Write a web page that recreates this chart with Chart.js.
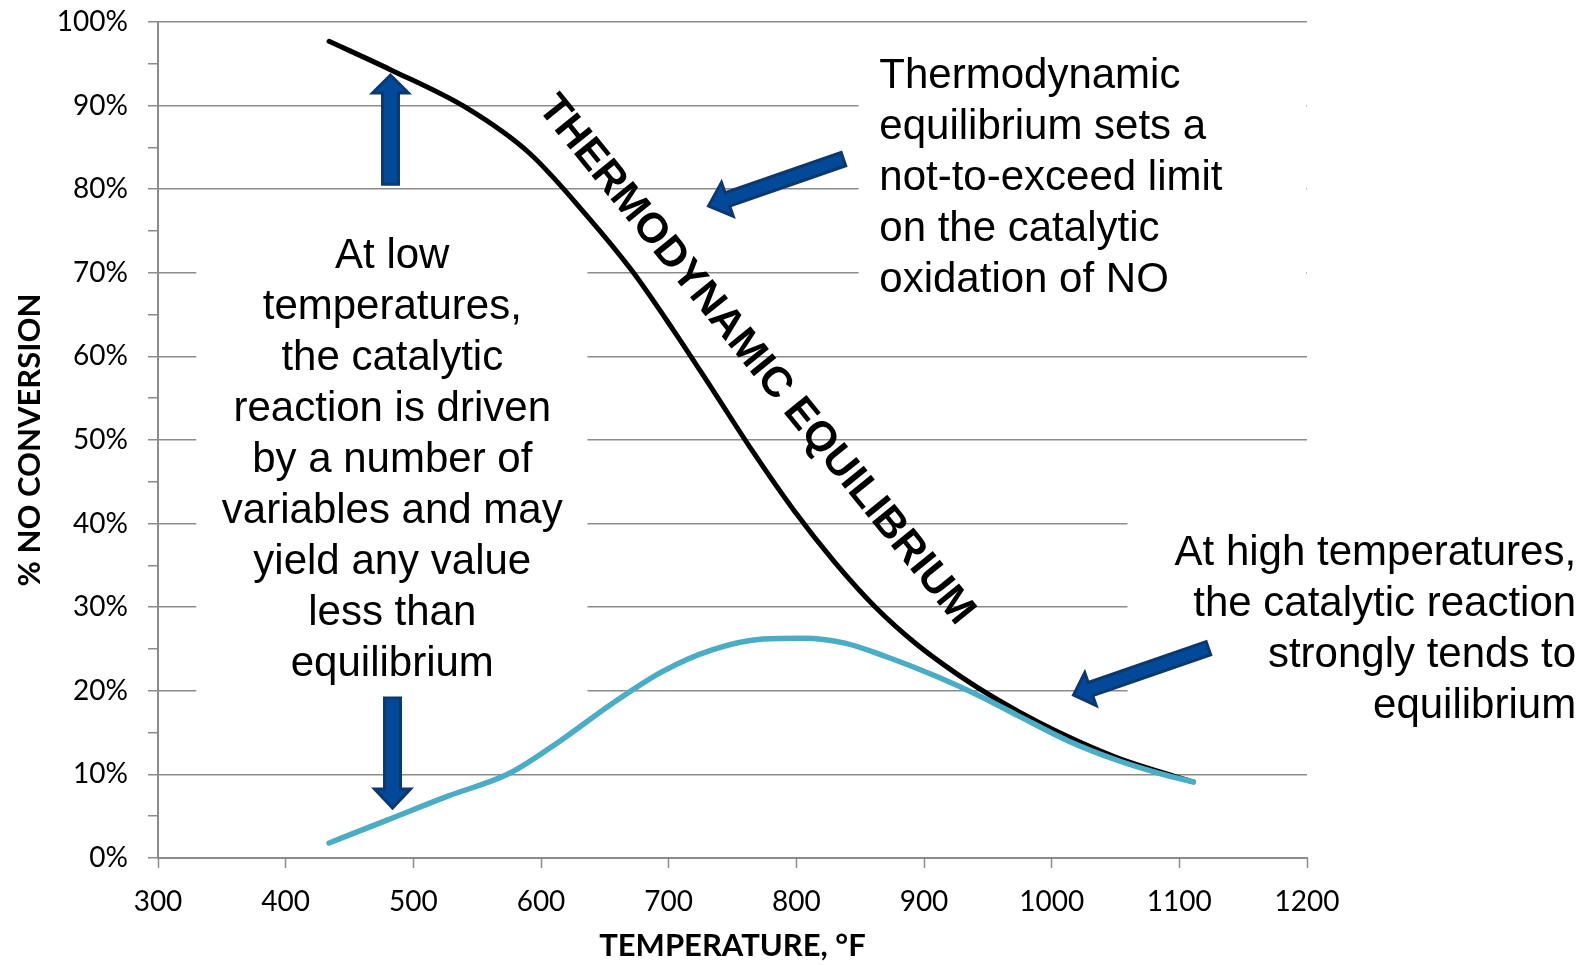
<!DOCTYPE html>
<html>
<head>
<meta charset="utf-8">
<title>% NO conversion vs temperature</title>
<script src="https://cdn.jsdelivr.net/npm/chart.js@4.4.0/dist/chart.umd.min.js"></script>
<style>
  html, body { margin: 0; padding: 0; background: #fff; }
  #wrap { width: 1596px; height: 965px; }
</style>
</head>
<body>
<div id="wrap"><canvas id="noChart" width="1596" height="965"></canvas></div>
<script>
// Thermodynamic equilibrium curve (temperature °F, % NO conversion)
const eqTemps = [434, 482, 543, 591, 635, 671, 703, 734.5, 766, 798, 830, 862, 894, 926, 958, 990, 1021.5, 1053, 1085, 1111];
const eqConversion = [97.7, 94.3, 89.6, 84.3, 77.0, 70.3, 63.3, 56.0, 48.6, 41.6, 35.4, 30.0, 25.6, 22.0, 18.9, 16.2, 13.9, 11.9, 10.3, 9.1];

// Catalytic reaction curve
const catTemps = [434, 479, 527, 575, 615, 655, 695, 734, 774, 806, 838, 870, 910, 942, 974, 1013, 1053, 1085, 1111];
const catConversion = [1.8, 4.5, 7.4, 10.1, 14.0, 18.4, 22.3, 24.9, 26.2, 26.3, 25.7, 24.1, 21.7, 19.5, 17.0, 14.0, 11.6, 10.1, 9.1];

// axis ticks
const xTickValues = [300, 400, 500, 600, 700, 800, 900, 1000, 1100, 1200];
const yMajorTicks = [0, 10, 20, 30, 40, 50, 60, 70, 80, 90, 100];
const yMinorTicks = [5, 15, 25, 35, 45, 55, 65, 75, 85, 95];

// text call-outs, anchored in data units (t = °F, p = %)
const notes = [
  { lines: ['At low', 'temperatures,', 'the catalytic', 'reaction is driven', 'by a number of',
            'variables and may', 'yield any value', 'less than', 'equilibrium'], t: 483.5, p: 72.4, align: 'center' },
  { lines: ['Thermodynamic', 'equilibrium sets a', 'not-to-exceed limit', 'on the catalytic',
            'oxidation of NO'], t: 865, p: 93.95, align: 'left' },
  { lines: ['At high temperatures,', 'the catalytic reaction', 'strongly tends to',
            'equilibrium'], t: 1410.8, p: 36.9, align: 'right' }
];
const curveLabel = { text: 'THERMODYNAMIC EQUILIBRIUM', t: 770.4, p: 59.8, angle: 51 };

// white boxes behind the call-outs (they hide the gridlines)
const noteBoxes = [
  { t0: 330, t1: 636.4, p0: 19.6, p1: 77 },
  { t0: 848.7, t1: 1199.5, p0: 62, p1: 96 },
  { t0: 1059.4, t1: 1260, p0: 16, p1: 44 }
];

// block arrows: tail -> tip
const arrows = [
  { from: [482.1, 80.6], to: [482.1, 93.66], shaft: 16, head: 36, headLen: 18 },
  { from: [483.7, 19.14], to: [483.7, 5.98], shaft: 16, head: 36, headLen: 19 },
  { from: [836.9, 83.6], to: [731.2, 78.0], shaft: 14, head: 36, headLen: 20 },
  { from: [1122.8, 25.1], to: [1017.1, 19.5], shaft: 14, head: 35, headLen: 18 }
];

const NOTE_FONT = '42px "Liberation Sans", Arial, sans-serif';
const LINE_HEIGHT = 51;

function drawArrow(ctx, x0, y0, x1, y1, a) {
  const ang = Math.atan2(y1 - y0, x1 - x0);
  const len = Math.hypot(x1 - x0, y1 - y0);
  ctx.save();
  ctx.translate(x0, y0);
  ctx.rotate(ang);
  ctx.beginPath();
  ctx.moveTo(0, -a.shaft / 2);
  ctx.lineTo(len - a.headLen, -a.shaft / 2);
  ctx.lineTo(len - a.headLen, -a.head / 2);
  ctx.lineTo(len, 0);
  ctx.lineTo(len - a.headLen, a.head / 2);
  ctx.lineTo(len - a.headLen, a.shaft / 2);
  ctx.lineTo(0, a.shaft / 2);
  ctx.closePath();
  ctx.fillStyle = '#03499a';
  ctx.fill();
  ctx.lineWidth = 3;
  ctx.lineJoin = 'miter';
  ctx.strokeStyle = '#0d386f';
  ctx.stroke();
  ctx.restore();
}

const callouts = {
  id: 'callouts',
  beforeDatasetsDraw(chart) {
    const { ctx, scales: { x, y } } = chart;
    ctx.save();
    ctx.fillStyle = '#fff';
    noteBoxes.forEach(b => {
      const x0 = x.getPixelForValue(b.t0), x1 = x.getPixelForValue(b.t1);
      const y0 = y.getPixelForValue(b.p1), y1 = y.getPixelForValue(b.p0);
      ctx.fillRect(x0, y0, x1 - x0, y1 - y0);
    });
    ctx.restore();
  },
  afterDatasetsDraw(chart) {
    const { ctx, scales: { x, y } } = chart;

    arrows.forEach(a => {
      drawArrow(ctx,
        x.getPixelForValue(a.from[0]), y.getPixelForValue(a.from[1]),
        x.getPixelForValue(a.to[0]), y.getPixelForValue(a.to[1]), a);
    });

    ctx.save();
    ctx.fillStyle = '#000';
    ctx.font = NOTE_FONT;
    ctx.textBaseline = 'alphabetic';
    notes.forEach(n => {
      ctx.textAlign = n.align;
      const px = x.getPixelForValue(n.t);
      const py = y.getPixelForValue(n.p);
      n.lines.forEach((line, i) => {
        // 15px ~ half the cap height, so py is the middle of the first line
        ctx.fillText(line, px, py + i * LINE_HEIGHT + 15);
      });
    });

    // label running along the equilibrium curve
    ctx.translate(x.getPixelForValue(curveLabel.t), y.getPixelForValue(curveLabel.p));
    ctx.rotate(curveLabel.angle * Math.PI / 180);
    ctx.font = 'bold 42px "Liberation Sans", Arial, sans-serif';
    ctx.textAlign = 'center';
    ctx.fillText(curveLabel.text, 0, 15);
    ctx.restore();
  }
};

const gridGray = '#8c8c8c';
const ctx = document.getElementById('noChart').getContext('2d');
const noChart = new Chart(ctx, {
  type: 'line',
  data: {
    datasets: [
      {
        label: 'Catalytic',
        data: catTemps.map((t, i) => ({ x: t, y: catConversion[i] })),
        borderColor: '#4bacc6',
        borderWidth: 5.5,
        borderCapStyle: 'round',
        cubicInterpolationMode: 'monotone',
        pointRadius: 0,
        fill: false,
        order: 0
      },
      {
        label: 'Thermodynamic equilibrium',
        data: eqTemps.map((t, i) => ({ x: t, y: eqConversion[i] })),
        borderColor: '#000',
        borderWidth: 5,
        borderCapStyle: 'round',
        cubicInterpolationMode: 'monotone',
        pointRadius: 0,
        fill: false,
        order: 1
      }
    ]
  },
  options: {
    responsive: false,
    animation: false,
    devicePixelRatio: 1,
    layout: { padding: { top: 22, right: 289, left: 0, bottom: 0 } },
    plugins: {
      legend: { display: false },
      tooltip: { enabled: false }
    },
    scales: {
      x: {
        type: 'linear',
        min: 300,
        max: 1200,
        afterBuildTicks: axis => { axis.ticks = xTickValues.map(v => ({ value: v })); },
        afterFit: axis => { axis.height = 107; },
        ticks: {
          color: '#000',
          font: { family: 'Lato', size: 28 },
          padding: 17,
          maxRotation: 0,
          autoSkip: false,
          callback: v => String(v)
        },
        grid: { drawOnChartArea: false, tickColor: gridGray, tickLength: 10, tickWidth: 1.5 },
        border: { color: gridGray, width: 2 },
        title: {
          display: true,
          text: 'TEMPERATURE, °F',
          color: '#000',
          font: { family: 'Lato', size: 31, weight: 'bold' },
          padding: 0
        }
      },
      y: {
        min: 0,
        max: 100,
        afterBuildTicks: axis => {
          axis.ticks = yMajorTicks.concat(yMinorTicks).sort((a, b) => a - b).map(v => ({ value: v }));
        },
        afterFit: axis => {
          axis.width = 158;
          // the layout padding alone decides where the plot starts
          axis.paddingTop = 0;
          axis.paddingBottom = 0;
        },
        ticks: {
          color: '#000',
          font: { family: 'Lato', size: 28 },
          padding: 20,
          autoSkip: false,
          callback: v => (yMajorTicks.includes(v) ? v + '%' : '')
        },
        grid: {
          color: c => (c.tick && yMajorTicks.includes(c.tick.value) ? gridGray : 'rgba(0,0,0,0)'),
          lineWidth: 1.5,
          tickColor: gridGray,
          tickLength: 10,
          tickWidth: 1.5
        },
        border: { color: gridGray, width: 2 },
        title: {
          display: true,
          text: '% NO CONVERSION',
          color: '#000',
          font: { family: 'Lato', size: 31, weight: 'bold' },
          padding: { top: 11, bottom: 0 }
        }
      }
    }
  },
  plugins: [callouts]
});
</script>
</body>
</html>
